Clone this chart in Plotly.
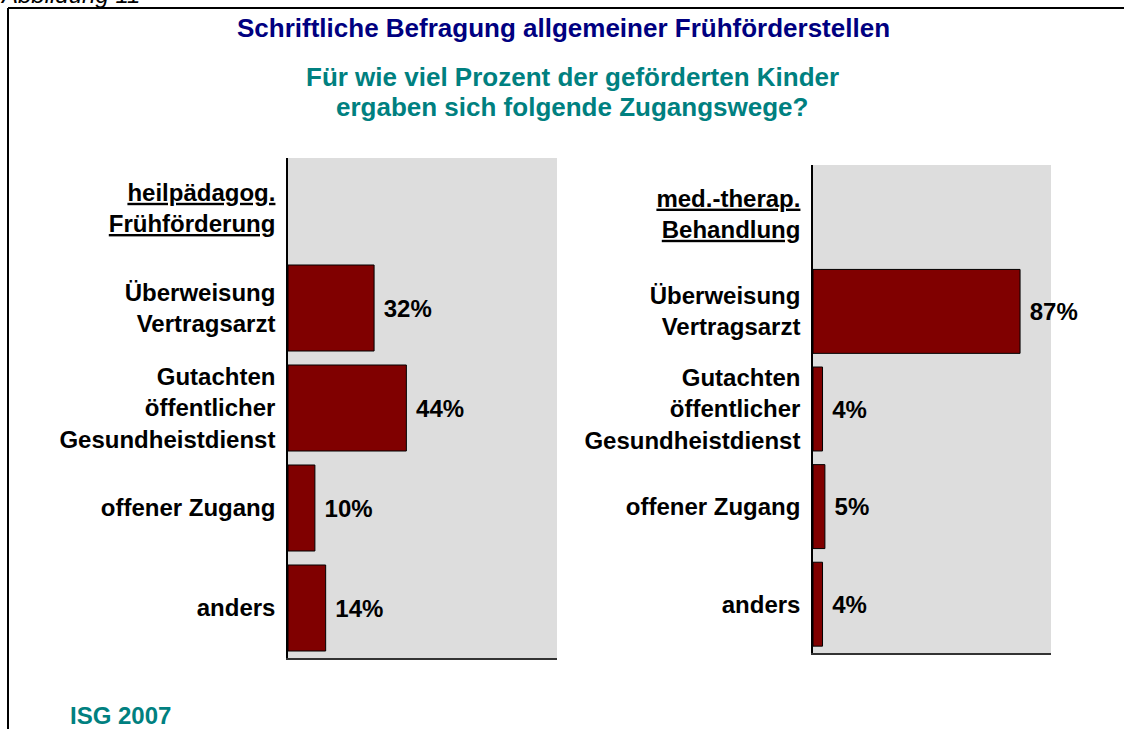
import plotly.graph_objects as go

W, H = 1124, 729

headers = ["<u>heilpädagog.</u><br><u>Frühförderung</u>",
           "<u>med.-therap.</u><br><u>Behandlung</u>"]
categories = ["Überweisung<br>Vertragsarzt",
              "Gutachten<br>öffentlicher<br>Gesundheistdienst",
              "offener Zugang",
              "anders"]
values_heil = [32, 44, 10, 14]
values_med = [87, 4, 5, 4]

title = "Schriftliche Befragung allgemeiner Frühförderstellen"
subtitle_lines = ["Für wie viel Prozent der geförderten Kinder",
                  "ergaben sich folgende Zugangswege?"]
source = "ISG 2007"
figlabel = "Abbildung 11"

FONT = "Liberation Sans, Arial, sans-serif"
BAR = "#800000"
TEAL = "#008080"
NAVY = "#000080"


def px_x(p):
    return p / W


def px_y(p):
    return 1 - p / H


fig = go.Figure()

for i, (hdr, vals) in enumerate([(headers[0], values_heil), (headers[1], values_med)]):
    cats = [hdr] + categories
    xs = [None] + vals
    txt = [""] + ["\u00a0%d%%" % v for v in vals]
    fig.add_trace(go.Bar(
        y=cats, x=xs, orientation="h",
        marker=dict(color=BAR, line=dict(color="black", width=1)),
        width=0.86,
        text=txt, textposition="outside", cliponaxis=False,
        constraintext="none",
        textfont=dict(family=FONT, size=24, color="black", weight="bold"),
        xaxis="x" if i == 0 else "x2",
        yaxis="y" if i == 0 else "y2",
        showlegend=False, hoverinfo="skip",
    ))

axis_y_common = dict(
    autorange="reversed", showgrid=False, ticks="", showline=True,
    linecolor="black", linewidth=1.5, ticklabelstandoff=6,
    tickfont=dict(family=FONT, size=24, color="black", weight="bold"),
    zeroline=False,
)
axis_x_common = dict(
    range=[0, 100], showgrid=False, showticklabels=False, ticks="",
    showline=True, linecolor="#333333", linewidth=2, zeroline=False,
)

fig.update_layout(
    margin=dict(l=0, r=0, t=0, b=0),
    paper_bgcolor="white",
    plot_bgcolor="#DDDDDD",
    xaxis=dict(domain=[px_x(288), px_x(557)], anchor="y", **axis_x_common),
    yaxis=dict(domain=[px_y(658), px_y(158)], anchor="x", **axis_y_common),
    xaxis2=dict(domain=[px_x(813), px_x(1051)], anchor="y2", **axis_x_common),
    yaxis2=dict(domain=[px_y(653), px_y(165)], anchor="x2", **axis_y_common),
    font=dict(family=FONT),
)

annotations = [
    dict(text=title, x=px_x(563), y=px_y(28), xref="paper", yref="paper",
         xanchor="center", yanchor="middle", showarrow=False,
         font=dict(family=FONT, size=26, color=NAVY, weight="bold")),
    dict(text=subtitle_lines[0], x=px_x(572), y=px_y(77), xref="paper", yref="paper",
         xanchor="center", yanchor="middle", showarrow=False,
         font=dict(family=FONT, size=26, color=TEAL, weight="bold")),
    dict(text=subtitle_lines[1], x=px_x(572), y=px_y(107), xref="paper", yref="paper",
         xanchor="center", yanchor="middle", showarrow=False,
         font=dict(family=FONT, size=26, color=TEAL, weight="bold")),
    dict(text=source, x=px_x(68), y=px_y(715), xref="paper", yref="paper",
         xanchor="left", yanchor="middle", showarrow=False,
         font=dict(family=FONT, size=24, color=TEAL, weight="bold")),
    dict(text=figlabel, x=px_x(-2), y=px_y(-6), xref="paper", yref="paper",
         xanchor="left", yanchor="middle", showarrow=False,
         font=dict(family=FONT, size=24, color="black", style="italic")),
]
fig.update_layout(annotations=annotations)

fig.add_shape(type="line", xref="paper", yref="paper",
              x0=px_x(8), x1=px_x(1130), y0=px_y(8), y1=px_y(8),
              line=dict(color="black", width=2))
fig.add_shape(type="line", xref="paper", yref="paper",
              x0=px_x(8), x1=px_x(8), y0=px_y(8), y1=px_y(735),
              line=dict(color="black", width=2))

post = ("document.body.style.margin='0';document.body.style.overflow='hidden';"
        "var gd=document.getElementById('{plot_id}');"
        "Plotly.relayout(gd,{width:window.innerWidth,height:window.innerHeight});")

fig.write_html("out.html", config={"displayModeBar": False}, post_script=post)
